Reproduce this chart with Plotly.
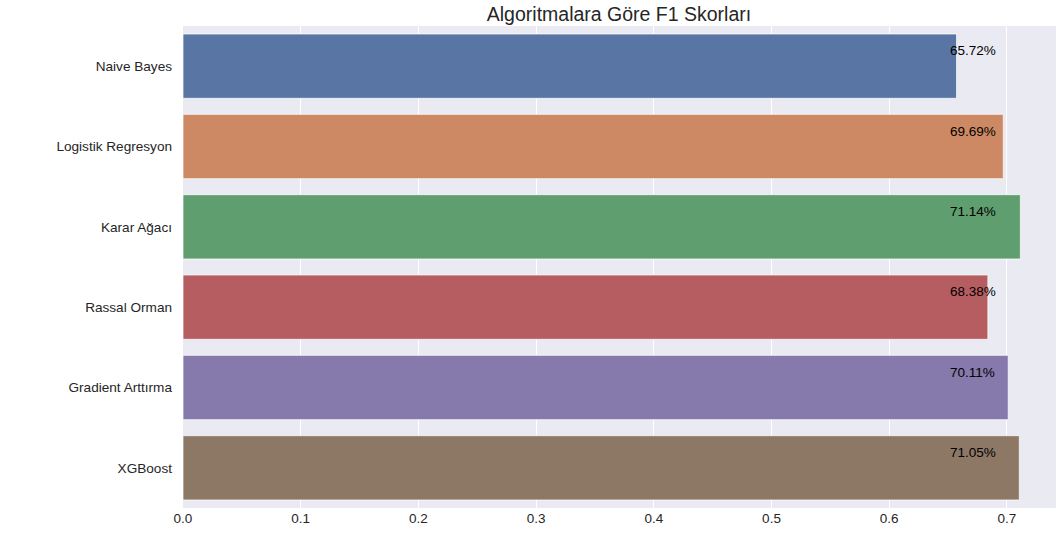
import plotly.graph_objects as go

algorithms = ["Naive Bayes", "Logistik Regresyon", "Karar Ağacı", "Rassal Orman", "Gradient Arttırma", "XGBoost"]
f1_scores = [0.6572, 0.6969, 0.7114, 0.6838, 0.7011, 0.7105]
bar_colors = ["#5975a4", "#cc8963", "#5f9e6e", "#b55d60", "#857aab", "#8d7866"]
x_ticks = [0.0, 0.1, 0.2, 0.3, 0.4, 0.5, 0.6, 0.7]
label_x = 0.65

positions = list(range(len(algorithms)))

fig = go.Figure()
fig.add_trace(go.Bar(
    x=f1_scores,
    y=positions,
    orientation="h",
    width=0.8,
    marker=dict(color=bar_colors, line=dict(color="rgba(255,255,255,0.7)", width=1)),
    hoverinfo="x+text",
    text=algorithms,
    textposition="none",
))

for i, v in enumerate(f1_scores):
    fig.add_annotation(
        x=label_x, y=i - 0.19, xref="x", yref="y",
        text=f"{v*100:.2f}%", showarrow=False,
        xanchor="left", yanchor="middle",
        font=dict(family="Liberation Sans, Arial, sans-serif", size=13.5, color="#000000"),
    )

fig.update_layout(
    width=1056, height=539,
    margin=dict(l=183, r=0, t=26, b=31),
    paper_bgcolor="white",
    plot_bgcolor="#EAEAF2",
    showlegend=False,
    title=dict(
        text="Algoritmalara Göre F1 Skorları",
        x=619 / 1056, xanchor="center", xref="container",
        y=1 - 14 / 539, yanchor="middle", yref="container",
        font=dict(family="Liberation Sans, Arial, sans-serif", size=19.5, color="#262626"),
    ),
    font=dict(family="Liberation Sans, Arial, sans-serif", size=13, color="#262626"),
)
fig.update_xaxes(
    range=[0, 0.7417],
    tickvals=x_ticks,
    ticktext=[f"{t:.1f}" for t in x_ticks],
    showgrid=True, gridcolor="white", gridwidth=1.3,
    zeroline=False, showline=False, ticks="",
    tickfont=dict(size=13.5, color="#262626"),
)
fig.update_yaxes(
    range=[5.5, -0.5],
    tickvals=positions,
    ticktext=algorithms,
    showgrid=False, zeroline=False, showline=False, ticks="",
    ticklabelstandoff=10,
    tickfont=dict(size=13.6, color="#262626"),
)

fig.write_html("out.html")
